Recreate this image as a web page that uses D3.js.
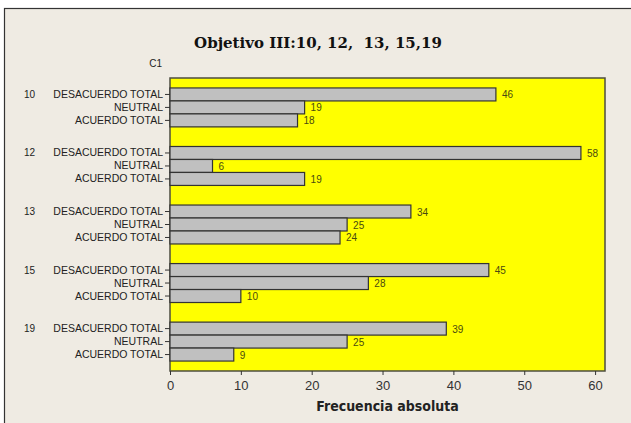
<!DOCTYPE html>
<html>
<head>
<meta charset="utf-8">
<script src="https://cdnjs.cloudflare.com/ajax/libs/d3/7.8.5/d3.min.js"></script>
<style>
  body { margin: 0; background: #fff; }
  svg { display: block; }
</style>
</head>
<body>
<div id="chart"></div>
<script>
// data
var groups = ["10", "12", "13", "15", "19"];
var categories = ["DESACUERDO TOTAL", "NEUTRAL", "ACUERDO TOTAL"];
var desacuerdo = [46, 58, 34, 45, 39];
var neutral = [19, 6, 25, 28, 25];
var acuerdo = [18, 19, 24, 10, 9];
var xTicks = [0, 10, 20, 30, 40, 50, 60];

var rows = [];
groups.forEach(function(g, i) {
  rows.push({group: g, cat: categories[0], value: desacuerdo[i]});
  rows.push({group: g, cat: categories[1], value: neutral[i]});
  rows.push({group: g, cat: categories[2], value: acuerdo[i]});
});

var W = 631, H = 423;
var margin = {top: 78, left: 170, right: 26, bottom: 52};
var width = W - margin.left - margin.right,
    height = H - margin.top - margin.bottom;

var svg = d3.select("#chart").append("svg")
    .attr("width", W)
    .attr("height", H);

// outer frame (bottom and right edges fall outside the picture)
svg.append("rect")
    .attr("x", 4.5).attr("y", 8.5)
    .attr("width", W + 10).attr("height", H + 10)
    .attr("fill", "#efebe3")
    .attr("stroke", "#333").attr("stroke-width", 1.2);

var g = svg.append("g")
    .attr("transform", "translate(" + margin.left + "," + margin.top + ")");

var x = d3.scaleLinear().domain([0, 61.4]).range([0, width]);
var y0 = d3.scaleBand().domain(groups).range([0, height])
    .paddingInner(0.335).paddingOuter(0.17);
var y1 = d3.scaleBand().domain(categories).range([0, y0.bandwidth()]);

// plot background
g.append("rect")
    .attr("width", width).attr("height", height)
    .attr("fill", "#ffff00")
    .attr("stroke", "#4d4d40").attr("stroke-width", 1.5);

// bars
g.selectAll(".bar")
    .data(rows)
  .enter().append("rect")
    .attr("class", "bar")
    .attr("x", 0)
    .attr("y", function(d) { return y0(d.group) + y1(d.cat); })
    .attr("width", function(d) { return x(d.value); })
    .attr("height", y1.bandwidth())
    .attr("fill", "#c0c0c0")
    .attr("stroke", "#333")
    .attr("stroke-width", 1.2);

// value labels
g.selectAll(".val")
    .data(rows)
  .enter().append("text")
    .attr("x", function(d) { return x(d.value) + 6; })
    .attr("y", function(d) { return y0(d.group) + y1(d.cat) + y1.bandwidth() / 2 + 4; })
    .attr("font-family", "Liberation Sans Narrow, Liberation Sans, sans-serif")
    .attr("font-size", 10)
    .attr("fill", "#4a4a10")
    .text(function(d) { return d.value; });

// category labels with ticks
g.selectAll(".tick-y")
    .data(rows)
  .enter().append("line")
    .attr("x1", -5).attr("x2", 0)
    .attr("y1", function(d) { return y0(d.group) + y1(d.cat) + y1.bandwidth() / 2; })
    .attr("y2", function(d) { return y0(d.group) + y1(d.cat) + y1.bandwidth() / 2; })
    .attr("stroke", "#333");

g.selectAll(".cat")
    .data(rows)
  .enter().append("text")
    .attr("x", -7)
    .attr("y", function(d) { return y0(d.group) + y1(d.cat) + y1.bandwidth() / 2 + 3.5; })
    .attr("text-anchor", "end")
    .attr("font-family", "Liberation Sans Narrow, Liberation Sans, sans-serif")
    .attr("font-size", 10.5)
    .attr("fill", "#222")
    .text(function(d) { return d.cat; });

// group labels
g.selectAll(".grp")
    .data(groups)
  .enter().append("text")
    .attr("x", -135)
    .attr("y", function(d) { return y0(d) + y1(categories[0]) + y1.bandwidth() / 2 + 3.5; })
    .attr("text-anchor", "end")
    .attr("font-family", "Liberation Sans, sans-serif")
    .attr("font-size", 10)
    .attr("fill", "#222")
    .text(function(d) { return d; });

g.append("text")
    .attr("x", -8).attr("y", -11)
    .attr("text-anchor", "end")
    .attr("font-family", "Liberation Sans, sans-serif")
    .attr("font-size", 10)
    .attr("fill", "#222")
    .text("C1");

// x axis
var xAxis = g.append("g")
    .attr("transform", "translate(0," + height + ")")
    .call(d3.axisBottom(x).tickValues(xTicks).tickSize(4).tickSizeOuter(0));
xAxis.select(".domain").remove();
xAxis.selectAll("line").attr("stroke", "#333");
xAxis.selectAll("text")
    .attr("font-family", "Liberation Sans, sans-serif")
    .attr("font-size", 13)
    .attr("fill", "#333")
    .attr("dy", "0.9em");

g.append("text")
    .attr("x", width / 2).attr("y", height + 40)
    .attr("text-anchor", "middle")
    .attr("font-family", "DejaVu Sans Condensed, DejaVu Sans, sans-serif")
    .attr("font-weight", "bold")
    .attr("font-size", 14)
    .attr("fill", "#222")
    .text("Frecuencia absoluta");

// title
svg.append("text")
    .attr("x", 318).attr("y", 48)
    .attr("text-anchor", "middle")
    .attr("font-family", "DejaVu Serif, serif")
    .attr("font-weight", "bold")
    .attr("font-size", 15)
    .attr("fill", "#111")
    .attr("xml:space", "preserve")
    .text("Objetivo III:10, 12,  13, 15,19");
</script>
</body>
</html>
